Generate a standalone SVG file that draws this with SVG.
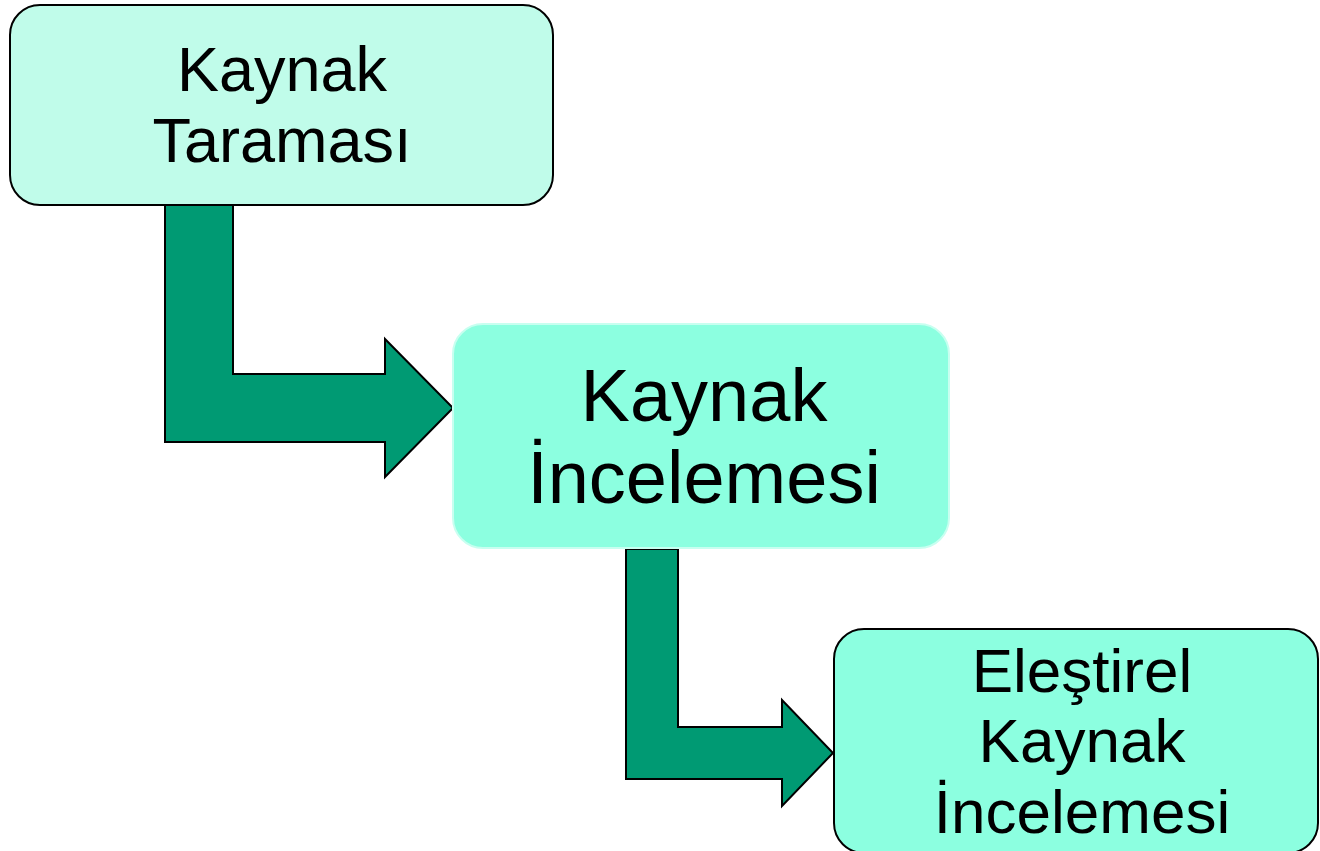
<svg xmlns="http://www.w3.org/2000/svg" width="1320" height="851" viewBox="0 0 1320 851">
<style>
.lbl{font-family:"Liberation Sans",Arial,sans-serif;fill:#000;text-anchor:middle}
.arrow{fill:#009a73;stroke:#000;stroke-width:2;stroke-linejoin:miter}
</style>
<rect x="0" y="0" width="1320" height="851" fill="#ffffff"/>
<g id="connectors">
<path class="arrow" d="M165,205 L233,205 L233,374 L385,374 L385,339 L453,408 L385,477 L385,442 L165,442 Z"/>
<path class="arrow" d="M626,549 L678,549 L678,727 L782,727 L782,700 L833,753 L782,806 L782,779 L626,779 Z"/>
</g>
<g id="node1">
<rect x="10" y="5" width="543" height="200" rx="30" ry="30" fill="#c0fcea" stroke="#000" stroke-width="2"/>
<text class="lbl" x="282" y="91" font-size="63">Kaynak</text>
<text class="lbl" x="282" y="162" font-size="63">Taraması</text>
</g>
<g id="node2">
<rect x="453" y="324" width="496" height="224" rx="30" ry="30" fill="#8cffe0" stroke="#c8fff0" stroke-width="2"/>
<text class="lbl" x="704" y="421" font-size="74">Kaynak</text>
<text class="lbl" x="704" y="503" font-size="74">İncelemesi</text>
</g>
<g id="node3">
<rect x="834" y="629" width="484" height="224" rx="30" ry="30" fill="#8cffe0" stroke="#000" stroke-width="2"/>
<text class="lbl" x="1082" y="692" font-size="62">Eleştirel</text>
<text class="lbl" x="1082" y="762" font-size="62">Kaynak</text>
<text class="lbl" x="1082" y="833" font-size="62">İncelemesi</text>
</g>
</svg>
